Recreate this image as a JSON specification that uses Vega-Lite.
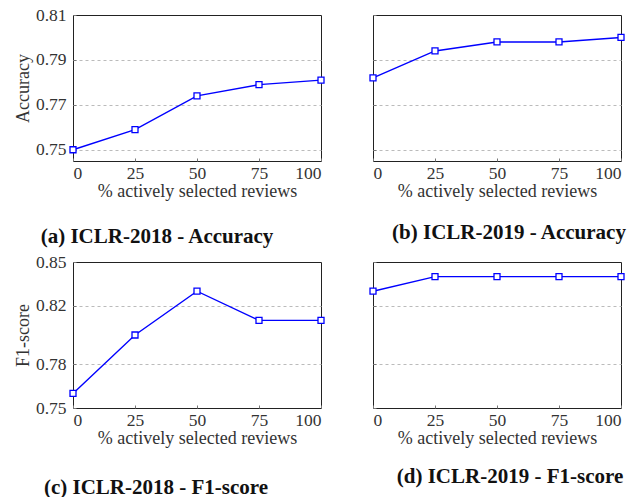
{
  "$schema": "https://vega.github.io/schema/vega-lite/v6.json",
  "padding": {"left": 13, "top": 5, "right": 5, "bottom": 5},
  "background": "white",
  "datasets": {
    "d": [
      {"panel": "a", "x": 0, "y": 0.750},
      {"panel": "a", "x": 25, "y": 0.759},
      {"panel": "a", "x": 50, "y": 0.774},
      {"panel": "a", "x": 75, "y": 0.779},
      {"panel": "a", "x": 100, "y": 0.781},
      {"panel": "b", "x": 0, "y": 0.782},
      {"panel": "b", "x": 25, "y": 0.794},
      {"panel": "b", "x": 50, "y": 0.798},
      {"panel": "b", "x": 75, "y": 0.798},
      {"panel": "b", "x": 100, "y": 0.800},
      {"panel": "c", "x": 0, "y": 0.760},
      {"panel": "c", "x": 25, "y": 0.800},
      {"panel": "c", "x": 50, "y": 0.830},
      {"panel": "c", "x": 75, "y": 0.810},
      {"panel": "c", "x": 100, "y": 0.810},
      {"panel": "d", "x": 0, "y": 0.830},
      {"panel": "d", "x": 25, "y": 0.840},
      {"panel": "d", "x": 50, "y": 0.840},
      {"panel": "d", "x": 75, "y": 0.840},
      {"panel": "d", "x": 100, "y": 0.840}
    ]
  },
  "config": {
    "font": "Liberation Serif",
    "view": {"stroke": "#222", "strokeWidth": 1},
    "axis": {
      "labelFont": "Liberation Serif",
      "titleFont": "Liberation Serif",
      "labelFontSize": 17.5,
      "titleFontSize": 18,
      "labelColor": "#333",
      "titleColor": "#333",
      "titleFontWeight": "normal",
      "domain": false,
      "tickColor": "#777",
      "tickSize": -3,
      "gridColor": "#bbb",
      "gridDash": [3, 3],
      "gridWidth": 1
    },
    "axisX": {"grid": false, "titlePadding": 1, "labelPadding": 6},
    "axisY": {"titlePadding": 3, "labelPadding": 10},
    "title": {"font": "Liberation Serif", "fontWeight": "bold", "fontSize": 21, "color": "#111", "orient": "bottom", "anchor": "middle", "frame": "group"}
  },
  "bounds": "flush",
  "columns": 2,
  "spacing": {"row": 101, "column": 52},
  "concat": [
    {
      "width": 248, "height": 146,
      "title": {"text": "(a) ICLR-2018 - Accuracy", "offset": 25, "dx": -40},
      "data": {"name": "d"},
      "transform": [{"filter": "datum.panel == 'a'"}],
      "encoding": {
        "x": {"field": "x", "type": "quantitative", "scale": {"domain": [0, 100], "nice": false}, "axis": {"values": [0, 25, 50, 75, 100], "title": "% actively selected reviews"}},
        "y": {"field": "y", "type": "quantitative", "scale": {"domain": [0.745, 0.81], "nice": false, "zero": false}, "axis": {"values": [0.75, 0.77, 0.79, 0.81], "format": ".2f", "title": "Accuracy", "gridColor": {"condition": {"test": "datum.value >= 0.809", "value": "transparent"}, "value": "#bbb"}}}
      },
      "layer": [
        {"mark": {"type": "line", "color": "#0000ff", "strokeWidth": 1.4}},
        {"mark": {"type": "point", "shape": "square", "filled": true, "fill": "white", "stroke": "#0000ff", "strokeWidth": 1.3, "size": 36, "opacity": 1}}
      ]
    },
    {
      "width": 248, "height": 146,
      "title": {"text": "(b) ICLR-2019 - Accuracy", "offset": 21, "dx": 12},
      "data": {"name": "d"},
      "transform": [{"filter": "datum.panel == 'b'"}],
      "encoding": {
        "x": {"field": "x", "type": "quantitative", "scale": {"domain": [0, 100], "nice": false}, "axis": {"values": [0, 25, 50, 75, 100], "title": "% actively selected reviews"}},
        "y": {"field": "y", "type": "quantitative", "scale": {"domain": [0.745, 0.81], "nice": false, "zero": false}, "axis": {"values": [0.75, 0.77, 0.79, 0.81], "labels": false, "title": null, "gridColor": {"condition": {"test": "datum.value >= 0.809", "value": "transparent"}, "value": "#bbb"}}}
      },
      "layer": [
        {"mark": {"type": "line", "color": "#0000ff", "strokeWidth": 1.4}},
        {"mark": {"type": "point", "shape": "square", "filled": true, "fill": "white", "stroke": "#0000ff", "strokeWidth": 1.3, "size": 36, "opacity": 1}}
      ]
    },
    {
      "width": 248, "height": 146,
      "title": {"text": "(c) ICLR-2018 - F1-score", "offset": 29, "dx": -41},
      "data": {"name": "d"},
      "transform": [{"filter": "datum.panel == 'c'"}],
      "encoding": {
        "x": {"field": "x", "type": "quantitative", "scale": {"domain": [0, 100], "nice": false}, "axis": {"values": [0, 25, 50, 75, 100], "title": "% actively selected reviews"}},
        "y": {"field": "y", "type": "quantitative", "scale": {"domain": [0.75, 0.85], "nice": false, "zero": false}, "axis": {"values": [0.75, 0.78, 0.82, 0.85], "format": ".2f", "title": "F1-score", "gridColor": {"condition": {"test": "datum.value >= 0.849 || datum.value <= 0.751", "value": "transparent"}, "value": "#bbb"}}}
      },
      "layer": [
        {"mark": {"type": "line", "color": "#0000ff", "strokeWidth": 1.4}},
        {"mark": {"type": "point", "shape": "square", "filled": true, "fill": "white", "stroke": "#0000ff", "strokeWidth": 1.3, "size": 36, "opacity": 1}}
      ]
    },
    {
      "width": 248, "height": 146,
      "title": {"text": "(d) ICLR-2019 - F1-score", "offset": 18, "dx": 13},
      "data": {"name": "d"},
      "transform": [{"filter": "datum.panel == 'd'"}],
      "encoding": {
        "x": {"field": "x", "type": "quantitative", "scale": {"domain": [0, 100], "nice": false}, "axis": {"values": [0, 25, 50, 75, 100], "title": "% actively selected reviews"}},
        "y": {"field": "y", "type": "quantitative", "scale": {"domain": [0.75, 0.85], "nice": false, "zero": false}, "axis": {"values": [0.75, 0.78, 0.82, 0.85], "labels": false, "title": null, "gridColor": {"condition": {"test": "datum.value >= 0.849 || datum.value <= 0.751", "value": "transparent"}, "value": "#bbb"}}}
      },
      "layer": [
        {"mark": {"type": "line", "color": "#0000ff", "strokeWidth": 1.4}},
        {"mark": {"type": "point", "shape": "square", "filled": true, "fill": "white", "stroke": "#0000ff", "strokeWidth": 1.3, "size": 36, "opacity": 1}}
      ]
    }
  ]
}
